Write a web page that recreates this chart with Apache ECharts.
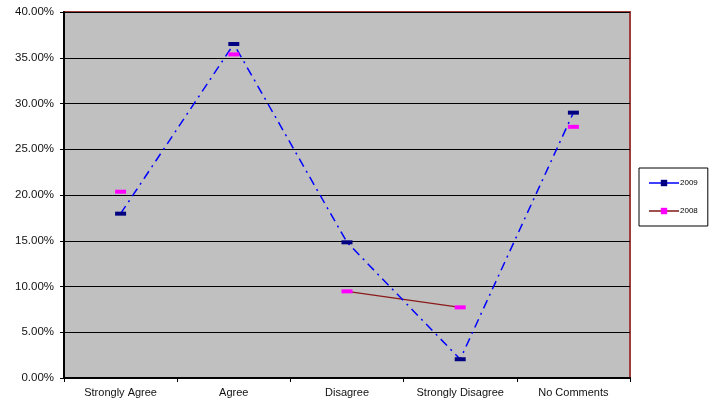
<!DOCTYPE html>
<html><head><meta charset="utf-8">
<script src="https://cdn.jsdelivr.net/npm/echarts@6/dist/echarts.min.js"></script>
<style>html,body{margin:0;padding:0;background:#fff}#c{width:711px;height:401px}</style>
</head><body><div id="c"></div>
<script>
const categories = ['Strongly Agree', 'Agree', 'Disagree', 'Strongly Disagree', 'No Comments'];
const values2009 = [17.96, 36.5, 14.83, 2.05, 29.0];
const values2008 = [20.36, 35.37, 9.47, 7.72, 27.45];
// 2008 connecting line only drawn between Disagree and Strongly Disagree
const line2008Indices = [2, 3];
const yTicks = { min: 0, max: 40, interval: 5 };

const line2008 = values2008.map((v, i) => line2008Indices.includes(i) ? v : null);
const chart = echarts.init(document.getElementById('c'));
const font = 'Liberation Sans, Arial, sans-serif';
chart.setOption({
  animation: false,
  backgroundColor: '#fff',
  grid: { left: 64, right: 81, top: 12, bottom: 23, show: true, backgroundColor: '#C0C0C0', borderColor: '#9E3B3B', borderWidth: 2 },
  xAxis: {
    type: 'category', data: categories, boundaryGap: true,
    axisLine: { lineStyle: { color: '#000', width: 2 } },
    axisTick: { show: true, length: 4, interval: 0, lineStyle: { color: '#000', width: 1 } },
    axisLabel: { color: '#111', fontFamily: font, fontSize: 11, margin: 9, interval: 0 }
  },
  yAxis: {
    type: 'value', min: yTicks.min, max: yTicks.max, interval: yTicks.interval,
    axisLine: { show: true, lineStyle: { color: '#000', width: 2 } },
    axisTick: { show: true, length: 4, lineStyle: { color: '#000', width: 1 } },
    splitLine: { lineStyle: { color: '#000', width: 1.2 } },
    axisLabel: { color: '#111', fontFamily: font, fontSize: 11.5, margin: 10, formatter: v => v.toFixed(2) + '%' }
  },
  legend: {
    orient: 'vertical', left: 639, top: 168, width: 69,
    padding: [11, 10, 11, 9], itemGap: 20, itemWidth: 30, itemHeight: 8,
    borderColor: '#000', borderWidth: 1, backgroundColor: '#fff',
    textStyle: { fontFamily: font, fontSize: 8, color: '#000', padding: [0, 0, 0, -4] },
    data: [
      { name: '2009', lineStyle: { color: '#0000FF', width: 1.5, type: 'solid' }, itemStyle: { color: '#000080' } },
      { name: '2008', lineStyle: { color: '#A05050', width: 2, opacity: 1, type: 'solid' }, itemStyle: { color: '#FF00FF' } }
    ]
  },
  series: [
    {
      name: '2009', type: 'line', data: values2009,
      symbol: 'rect', symbolSize: [11, 4], showAllSymbol: true,
      itemStyle: { color: '#000080' },
      lineStyle: { color: '#0000FF', width: 1.5, type: [9, 5, 2, 5] },
      z: 3
    },
    {
      name: '2008', type: 'line', data: values2008,
      symbol: 'rect', symbolSize: [11, 4], showAllSymbol: true,
      itemStyle: { color: '#FF00FF' },
      lineStyle: { color: '#9E3B3B', width: 1.5, opacity: 0 },
      z: 4
    },
    {
      name: '2008line', type: 'line', data: line2008, connectNulls: false,
      symbol: 'none', lineStyle: { color: '#8B1A1A', width: 1.3 },
      z: 2, legendHoverLink: false
    }
  ]
});
</script></body></html>
